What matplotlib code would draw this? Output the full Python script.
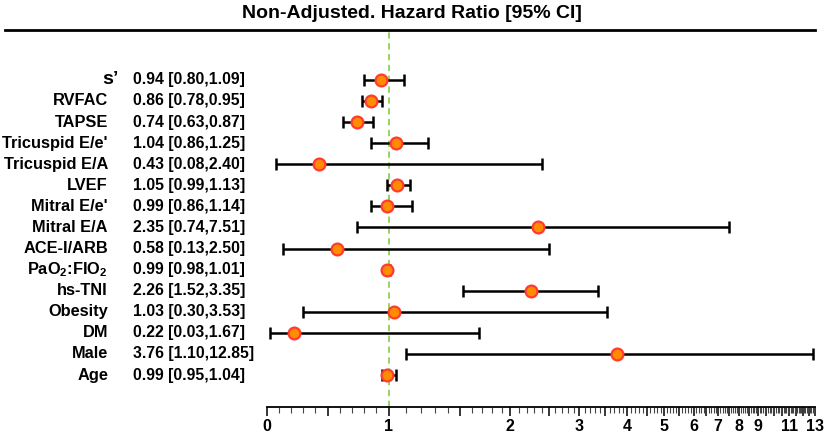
import numpy as np
import matplotlib
matplotlib.use("Agg")
from matplotlib import pyplot as plt
from matplotlib.transforms import blended_transform_factory
from matplotlib.lines import Line2D

plt.rcParams['font.family'] = ['Liberation Sans', 'DejaVu Sans']
plt.rcParams['font.weight'] = 'bold'
plt.rcParams['mathtext.fontset'] = 'custom'
plt.rcParams['mathtext.rm'] = 'Liberation Sans:bold'
plt.rcParams['mathtext.bf'] = 'Liberation Sans:bold'

# rows, top to bottom
names = ["s\u2019", "RVFAC", "TAPSE", "Tricuspid E/e'", "Tricuspid E/A", "LVEF",
         "Mitral E/e'", "Mitral E/A", "ACE-I/ARB", r"PaO$_\mathbf{2}$:FIO$_\mathbf{2}$",
         "hs-TNI", "Obesity", "DM", "Male", "Age"]
hr = [0.94, 0.86, 0.74, 1.04, 0.43, 1.05, 0.99, 2.35, 0.58, 0.99, 2.26, 1.03, 0.22, 3.76, 0.99]
lo = [0.80, 0.78, 0.63, 0.86, 0.08, 0.99, 0.86, 0.74, 0.13, 0.98, 1.52, 0.30, 0.03, 1.10, 0.95]
hi = [1.09, 0.95, 0.87, 1.25, 2.40, 1.13, 1.14, 7.51, 2.50, 1.01, 3.35, 3.53, 1.67, 12.85, 1.04]

tick_text = ['0', '1', '2', '3', '4', '5', '6', '7', '8', '9', '', '11', '', '13']

# axis is linear below 1, squeezed log above 1
A, B = 1.472, 0.0419

def fwd(x):
    x = np.asarray(x, dtype=float)
    L = np.log(np.maximum(x, 1.0))
    return np.where(x <= 1, x, 1 + A * L - B * L ** 2)

def inv(t):
    t = np.asarray(t, dtype=float)
    d = np.maximum(A * A - 4 * B * np.maximum(t - 1, 0), 0)
    L = (A - np.sqrt(d)) / (2 * B)
    return np.where(t <= 1, t, np.exp(L))

hr = np.array(hr)
lo = np.array(lo)
hi = np.array(hi)
n = len(names)
y = np.arange(n)[::-1]

fig = plt.figure(figsize=(8.29, 4.34), dpi=100)
ax = fig.add_axes([266.7 / 829, 27.3 / 434, (815 - 266.7) / 829, (406.7 - 31) / 434])
ax.set_xscale('function', functions=(fwd, inv))
ax.set_xlim(0, 13)
ax.set_ylim(-1.5, n + 1.32)

ax.axvline(1, color='#92D050', lw=1.3, dashes=(3.5, 2.5), zorder=1)
ax.errorbar(hr, y, xerr=[hr - lo, hi - hr], fmt='none', ecolor='black',
            elinewidth=1.8, capsize=4, capthick=1.8, zorder=2)
ax.plot(hr, y, 'o', ms=8.5, mfc='#FF8C00', mec='#FF3B30', mew=1.6, zorder=3)

for s in ['left', 'right', 'top']:
    ax.spines[s].set_visible(False)
ax.spines['bottom'].set_linewidth(1.3)
ax.set_yticks([])

half = np.arange(0, 13.01, 0.5)
ax.set_xticks(half)
ax.set_xticklabels([tick_text[int(v)] if v == int(v) else '' for v in half])
ax.set_xticks(np.arange(0, 13.01, 0.1), minor=True)
ax.tick_params(axis='x', which='major', length=6.5, width=1.1, direction='out',
               labelsize=11.5, pad=2)
ax.tick_params(axis='x', which='minor', length=4, width=0.8, color='#444444')
for lab in ax.get_xticklabels():
    lab.set_fontweight('bold')

tr = blended_transform_factory(fig.transFigure, ax.transData)
for i in range(n):
    if i == 0:
        ax.text(119 / 829, y[i], names[i], transform=tr, ha='right', va='center',
                fontsize=14, fontweight='bold')
    else:
        ax.text(108 / 829, y[i], names[i], transform=tr, ha='right', va='center',
                fontsize=11.8, fontweight='bold')
    ax.text(133 / 829, y[i], '%.2f [%.2f,%.2f]' % (hr[i], lo[i], hi[i]), transform=tr,
            ha='left', va='center', fontsize=11.3, fontweight='bold')

fig.text(412 / 829, 1 - 14 / 434, 'Non-Adjusted. Hazard Ratio [95% CI]', ha='center',
         va='center', fontsize=14, fontweight='bold',
         family=['Liberation Sans Narrow', 'Liberation Sans'])
fig.add_artist(Line2D([5 / 829, 815 / 829], [1 - 30 / 434, 1 - 30 / 434],
                      color='black', lw=2, transform=fig.transFigure))

fig.savefig('out.png', dpi=100)
